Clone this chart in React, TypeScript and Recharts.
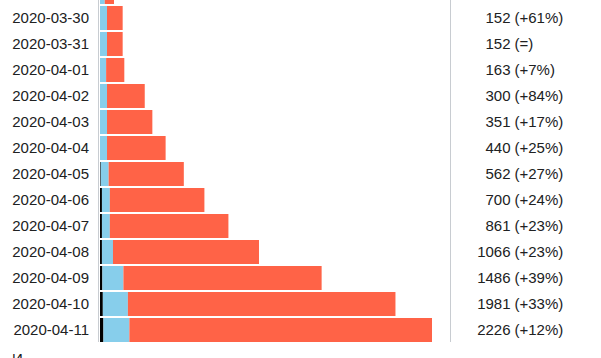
import { BarChart, Bar, XAxis, YAxis } from "recharts";

const dates = [
    "2020-03-29", "2020-03-30", "2020-03-31", "2020-04-01", "2020-04-02",
    "2020-04-03", "2020-04-04", "2020-04-05", "2020-04-06", "2020-04-07",
    "2020-04-08", "2020-04-09", "2020-04-10", "2020-04-11",
];
const totals = [94, 152, 152, 163, 300, 351, 440, 562, 700, 861, 1066, 1486, 1981, 2226];
const changes = ["=", "+61%", "=", "+7%", "+84%", "+17%", "+25%", "+27%", "+24%", "+23%", "+23%", "+39%", "+33%", "+12%"];
const deaths = [0, 0, 0, 0, 0, 0, 0, 5, 13, 13, 13, 16, 19, 23];
const recovered = [32, 47, 47, 41, 47, 47, 47, 53, 53, 53, 74, 141, 168, 174];

const rows = dates.map((date, i) => ({
    date,
    total: totals[i],
    change: changes[i],
    deaths: deaths[i],
    recovered: recovered[i],
    active: totals[i] - deaths[i] - recovered[i],
}));

const FONT = '"Liberation Sans", Arial, sans-serif';
const TEXT = "#202122";
const BORDER = "#c8ccd1";
const SHIFT = -21; // chart is pulled up so the first row is cut off like the crop

function RowTick(props: any) {
    const { y, index } = props;
    const r = rows[index];
    // the row above the crop has its labels out of view
    if (y + SHIFT < 10) return null;
    return (
        <g fontFamily={FONT} fontSize={15} fill={TEXT}>
            <text x={89} y={y} dy="0.355em" textAnchor="end">{r.date}</text>
            <text x={510.5} y={y} dy="0.355em" textAnchor="end">{r.total}</text>
            <text x={514.5} y={y} dy="0.355em" textAnchor="start">({r.change})</text>
        </g>
    );
}

export default function App() {
    return (
        <div style={{ position: "absolute", left: 0, top: 0, width: 601, height: 358, overflow: "hidden", background: "#fff" }}>
            <div style={{ position: "absolute", left: 0, top: SHIFT }}>
                <BarChart
                    width={601}
                    height={364}
                    data={rows}
                    layout="vertical"
                    margin={{ top: 0, right: 169, bottom: 0, left: 0 }}
                >
                    <XAxis type="number" domain={[0, "dataMax"]} hide />
                    <YAxis
                        type="category"
                        dataKey="date"
                        width={100}
                        axisLine={false}
                        tickLine={false}
                        tick={<RowTick />}
                        interval={0}
                    />
                    <Bar dataKey="deaths" stackId="a" fill="#000000" barSize={24} isAnimationActive={false} />
                    <Bar dataKey="recovered" stackId="a" fill="#87CEEB" barSize={24} isAnimationActive={false} />
                    <Bar dataKey="active" stackId="a" fill="#FF6347" barSize={24} isAnimationActive={false} />
                </BarChart>
            </div>
            <div style={{ position: "absolute", left: 98, top: 0, width: 1, height: 342, background: BORDER }} />
            <div style={{ position: "absolute", left: 450, top: 0, width: 1, height: 342, background: BORDER }} />
            <div style={{ position: "absolute", left: 12, top: 351, fontFamily: FONT, fontSize: 15, lineHeight: "15px", color: TEXT }}>И</div>
        </div>
    );
}
